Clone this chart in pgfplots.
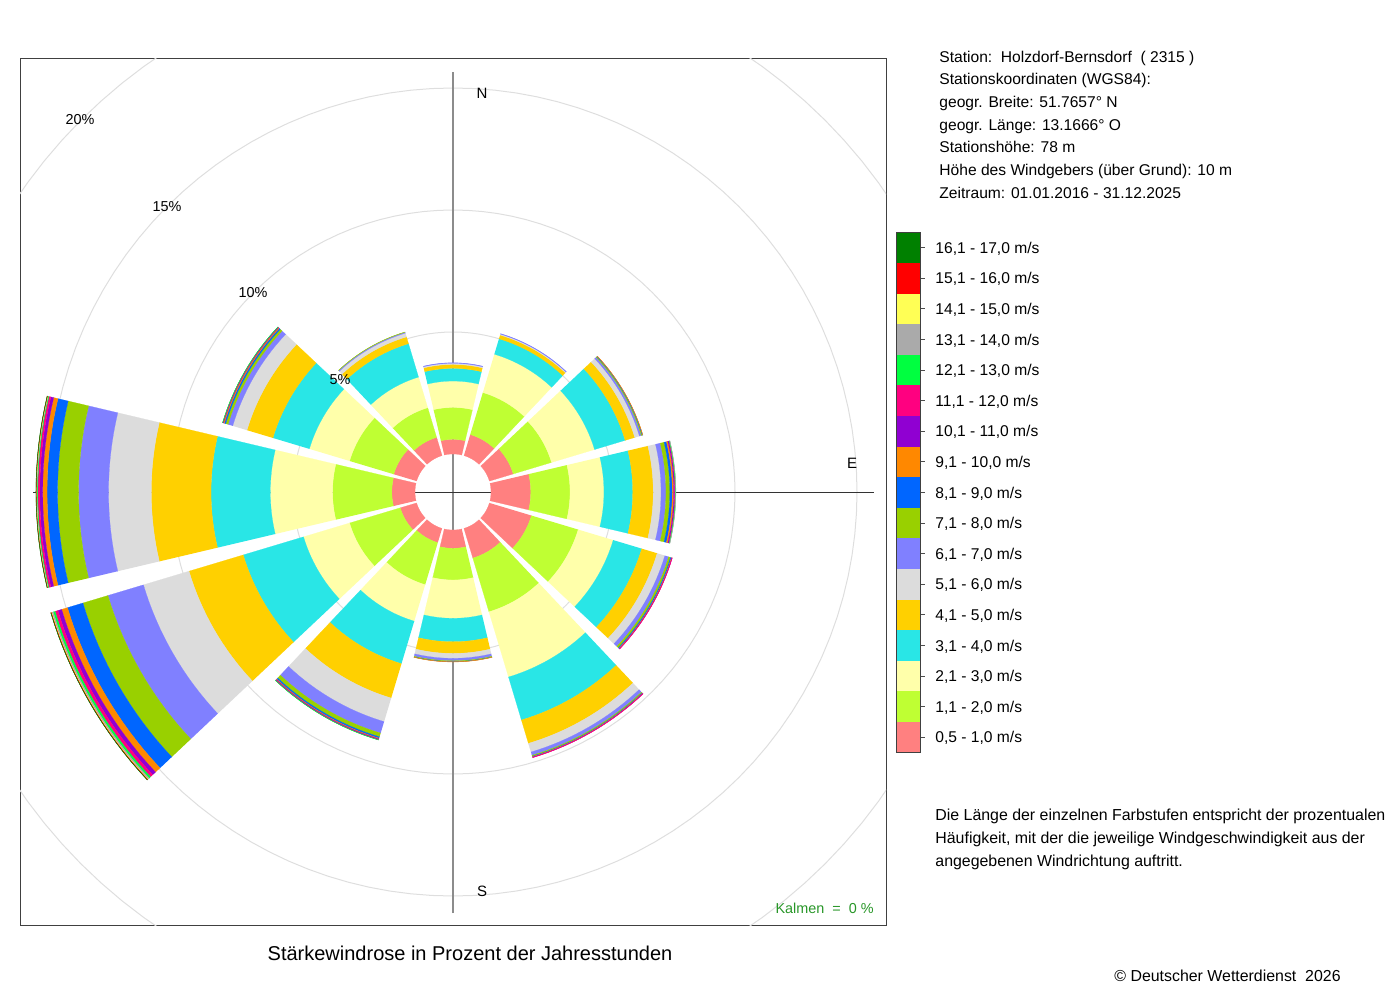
\documentclass[border=0pt]{standalone}
\usepackage{fontspec}
\setmainfont{Liberation Sans}
\usepackage{pgfplots}
\usepackage{pgfplotstable}
\pgfplotsset{compat=1.18}

\definecolor{c1}{RGB}{255,128,128}
\definecolor{c2}{RGB}{191,255,51}
\definecolor{c3}{RGB}{255,255,170}
\definecolor{c4}{RGB}{41,230,230}
\definecolor{c5}{RGB}{255,208,0}
\definecolor{c6}{RGB}{220,220,220}
\definecolor{c7}{RGB}{128,128,255}
\definecolor{c8}{RGB}{153,208,0}
\definecolor{c9}{RGB}{0,102,255}
\definecolor{c10}{RGB}{255,136,0}
\definecolor{c11}{RGB}{144,0,210}
\definecolor{c12}{RGB}{255,0,128}
\definecolor{c13}{RGB}{0,255,64}
\definecolor{c14}{RGB}{170,170,170}
\definecolor{c15}{RGB}{255,255,85}
\definecolor{c16}{RGB}{255,0,0}
\definecolor{c17}{RGB}{0,128,0}
\definecolor{gridgray}{RGB}{222,222,222}
\definecolor{kalmen}{RGB}{40,150,40}

% percentage of hours per direction (columns, degrees) and speed class (rows)
\pgfplotstableread{
cls a0 a30 a60 a90 a120 a150 a180 a210 a240 a270 a300 a330
1 0.60 0.90 1.02 1.63 1.80 1.27 0.75 0.61 0.70 0.95 0.98 0.78
2 1.31 1.80 1.64 1.61 2.00 2.30 1.30 1.80 2.17 2.43 1.89 1.27
3 1.08 1.64 1.84 1.39 1.50 2.79 1.57 1.56 1.97 2.55 1.72 1.31
4 0.52 0.66 1.31 1.18 1.22 1.84 0.96 1.82 2.58 2.43 1.56 1.43
5 0.16 0.16 0.41 0.84 0.66 1.00 0.48 1.47 2.32 2.45 1.11 0.29
6 0.05 0.04 0.20 0.32 0.33 0.37 0.20 1.01 1.95 1.75 0.61 0.16
7 0.02 0.02 0.08 0.20 0.16 0.14 0.10 0.49 1.52 1.23 0.20 0.04
8 0 0 0.04 0.16 0.08 0.04 0.03 0.16 1.07 0.86 0.10 0.01
9 0 0 0.02 0.10 0.04 0.02 0.01 0.06 0.66 0.43 0.06 0
10 0 0 0.01 0.06 0.02 0.02 0.01 0.03 0.25 0.18 0.04 0
11 0 0 0 0.04 0.01 0.01 0 0.03 0.16 0.12 0.02 0
12 0 0 0 0.02 0.01 0.01 0 0.01 0.12 0.08 0.01 0
13 0 0 0 0.02 0 0 0 0.01 0.08 0.03 0.01 0
14 0 0 0 0.01 0 0 0 0 0.06 0.02 0 0
15 0 0 0 0 0 0 0 0 0.02 0.01 0 0
16 0 0 0 0 0 0 0 0 0.02 0.01 0 0
17 0 0 0 0 0 0 0 0 0.01 0.01 0 0
}\rosedata

% annular sector: #1 compass angle, #2 inner radius, #3 outer radius, #4 colour
\newcommand\sector[4]{%
  \gdef\pts{}%
  \foreach \ii in {0,...,16}{%
    \pgfmathsetmacro\aa{#1-13.3+\ii*1.6625}%
    \pgfmathsetmacro\xx{#3*sin(\aa)}%
    \pgfmathsetmacro\yy{#3*cos(\aa)}%
    \xdef\pts{\pts(\xx,\yy)}%
  }%
  \foreach \ii in {16,...,0}{%
    \pgfmathsetmacro\aa{#1-13.3+\ii*1.6625}%
    \pgfmathsetmacro\xx{#2*sin(\aa)}%
    \pgfmathsetmacro\yy{#2*cos(\aa)}%
    \xdef\pts{\pts(\xx,\yy)}%
  }%
  \edef\doplot{\noexpand\addplot[fill=#4,draw=#4,line width=0.1pt,forget plot] coordinates {\pts};}%
  \doplot
}
\newcommand\gridcircle[1]{%
  \gdef\pts{}%
  \foreach \ii in {0,3,...,360}{%
    \pgfmathsetmacro\xx{#1*sin(\ii)}%
    \pgfmathsetmacro\yy{#1*cos(\ii)}%
    \xdef\pts{\pts(\xx,\yy)}%
  }%
  \edef\doplot{\noexpand\addplot[draw=gridgray,line width=0.5pt,forget plot] coordinates {\pts};}%
  \doplot
}

\begin{document}
\begin{tikzpicture}
\path[use as bounding box] (0,0) rectangle (700pt,-500pt);
\begin{axis}[
  at={(10pt,-462.5pt)}, anchor=south west,
  width=433pt, height=433pt, scale only axis,
  xmin=-433, xmax=433, ymin=-433, ymax=433,
  xtick=\empty, ytick=\empty,
  axis line style={draw=black!75, line width=0.5pt},
]
% grid circles at 5, 10, 15, 20 %
\gridcircle{160}
\gridcircle{282}
\gridcircle{404}
\gridcircle{526}
\addplot[draw=black!45, line width=0.8pt] coordinates {(0,-421) (0,420)};
\addplot[draw=black!80, line width=0.5pt] coordinates {(-420,0) (421,0)};
\foreach \ang [count=\j] in {0,30,...,330}{%
  \xdef\rin{38}%
  \foreach \row in {0,...,16}{%
    \pgfplotstablegetelem{\row}{[index]\j}\of\rosedata
    \let\val\pgfplotsretval
    \ifdim\val pt>0.001pt
      \pgfmathsetmacro\rout{\rin+24.4*\val}%
      \pgfmathtruncatemacro\cls{\row+1}%
      \sector{\ang}{\rin}{\rout}{c\cls}%
      \xdef\rin{\rout}%
    \fi
  }%
}
\end{axis}

\begin{scope}[x=0.5pt,y=-0.5pt]
% labels in the rose
\begin{scope}[font=\fontsize{7.2}{8}\selectfont]
\node at (80,120) {20\%};
\node at (167,207) {15\%};
\node at (253,293) {10\%};
\node at (340,380) {5\%};
\node[font=\fontsize{7.5}{8}\selectfont] at (482,93) {N};
\node[font=\fontsize{7.5}{8}\selectfont] at (852,463) {E};
\node[font=\fontsize{7.5}{8}\selectfont] at (482,891) {S};
\node[anchor=base east, inner sep=0, text=kalmen] at (874,913) {Kalmen\ \ =\ \ 0 \%};
\end{scope}
% title
\node[anchor=base, inner sep=0, font=\fontsize{10}{12}\selectfont] at (470,960) {Stärkewindrose in Prozent der Jahresstunden};
% station info
\begin{scope}[font=\fontsize{7.8}{9}\selectfont]
\node[anchor=base west, inner sep=0] at (939,62.3) {Station:\ \ Holzdorf-Bernsdorf\ \ ( 2315 )};
\node[anchor=base west, inner sep=0] at (939,85.0) {Stationskoordinaten (WGS84):};
\node[anchor=base west, inner sep=0] at (939,107.6) {geogr. Breite: 51.7657° N};
\node[anchor=base west, inner sep=0] at (939,130.3) {geogr. Länge: 13.1666° O};
\node[anchor=base west, inner sep=0] at (939,153.0) {Stationshöhe: 78 m};
\node[anchor=base west, inner sep=0] at (939,175.6) {Höhe des Windgebers (über Grund): 10 m};
\node[anchor=base west, inner sep=0] at (939,198.3) {Zeitraum: 01.01.2016 - 31.12.2025};
% legend
\foreach \i in {0,...,16}{%
  \pgfmathtruncatemacro\c{17-\i}%
  \fill[c\c] (896,{232.3+30.6*\i}) rectangle (920.7,{232.3+30.6*(\i+1)});
  \draw[black!70, line width=0.5pt] (920.7,{247.6+30.6*\i}) -- (925,{247.6+30.6*\i});
}
\draw[black!75, line width=0.5pt] (896,232.3) rectangle (920.7,752.3);
\foreach \lab [count=\i from 0] in {{16,1 - 17,0 m/s},{15,1 - 16,0 m/s},{14,1 - 15,0 m/s},{13,1 - 14,0 m/s},{12,1 - 13,0 m/s},{11,1 - 12,0 m/s},{10,1 - 11,0 m/s},{9,1 - 10,0 m/s},{8,1 - 9,0 m/s},{7,1 - 8,0 m/s},{6,1 - 7,0 m/s},{5,1 - 6,0 m/s},{4,1 - 5,0 m/s},{3,1 - 4,0 m/s},{2,1 - 3,0 m/s},{1,1 - 2,0 m/s},{0,5 - 1,0 m/s}}{%
  \node[anchor=base west, inner sep=0] at (935,{253.2+30.6*\i}) {\lab};
}
\end{scope}
% explanation
\begin{scope}[font=\fontsize{7.95}{9}\selectfont]
\node[anchor=base west, inner sep=0] at (935,820) {Die Länge der einzelnen Farbstufen entspricht der prozentualen};
\node[anchor=base west, inner sep=0] at (935,843) {Häufigkeit, mit der die jeweilige Windgeschwindigkeit aus der};
\node[anchor=base west, inner sep=0] at (935,866) {angegebenen Windrichtung auftritt.};
\node[anchor=base east, inner sep=0] at (1341,981) {© Deutscher Wetterdienst\ \ 2026};
\end{scope}
\end{scope}
\end{tikzpicture}
\end{document}
